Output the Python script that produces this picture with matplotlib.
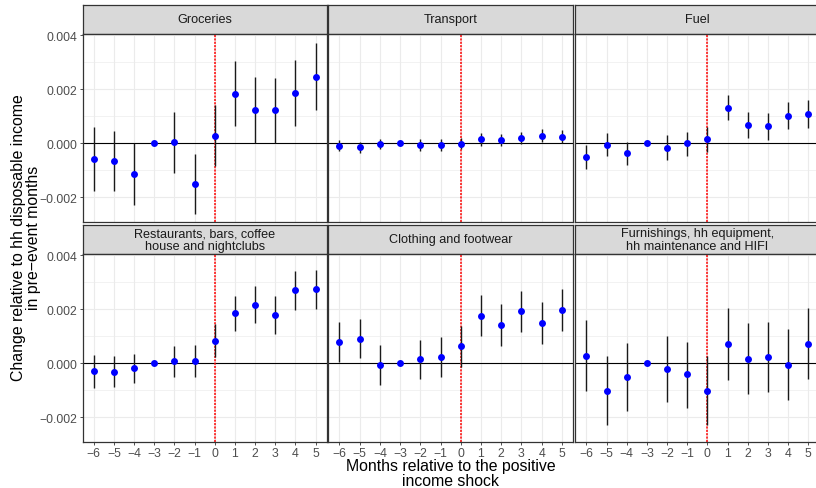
import matplotlib
matplotlib.use("Agg")
import matplotlib.pyplot as plt
from matplotlib.ticker import FixedLocator
import numpy as np

plt.rcParams["font.family"] = ["Liberation Sans", "DejaVu Sans"]

months = [-6, -5, -4, -3, -2, -1, 0, 1, 2, 3, 4, 5]

titles = [
    "Groceries",
    "Transport",
    "Fuel",
    "Restaurants, bars, coffee\nhouse and nightclubs",
    "Clothing and footwear",
    "Furnishings, hh equipment,\nhh maintenance and HIFI",
]

groceries_est = [-0.00059, -0.00065, -0.00113, 0.0, 0.00004, -0.00150, 0.00027, 0.00182, 0.00122, 0.00122, 0.00186, 0.00246]
groceries_lo = [-0.00177, -0.00177, -0.00228, 0.0, -0.00110, -0.00262, -0.00085, 0.00063, 0.00000, 0.00000, 0.00063, 0.00122]
groceries_hi = [0.00059, 0.00047, 0.00000, 0.0, 0.00117, -0.00041, 0.00140, 0.00303, 0.00244, 0.00240, 0.00308, 0.00371]

transport_est = [-0.00009, -0.00015, -0.00004, 0.0, -0.00005, -0.00005, -0.00002, 0.00015, 0.00011, 0.00020, 0.00028, 0.00025]
transport_lo = [-0.00030, -0.00036, -0.00023, 0.0, -0.00027, -0.00027, -0.00023, -0.00009, -0.00011, -0.00004, 0.00005, 0.00001]
transport_hi = [0.00011, 0.00005, 0.00017, 0.0, 0.00016, 0.00017, 0.00020, 0.00037, 0.00034, 0.00042, 0.00052, 0.00048]

fuel_est = [-0.00050, -0.00005, -0.00036, 0.0, -0.00016, 0.00000, 0.00014, 0.00132, 0.00068, 0.00062, 0.00102, 0.00108]
fuel_lo = [-0.00096, -0.00048, -0.00080, 0.0, -0.00063, -0.00046, -0.00033, 0.00085, 0.00021, 0.00012, 0.00052, 0.00055]
fuel_hi = [-0.00007, 0.00037, 0.00006, 0.0, 0.00030, 0.00043, 0.00059, 0.00179, 0.00115, 0.00111, 0.00154, 0.00161]

restaurants_est = [-0.00028, -0.00031, -0.00018, 0.0, 0.00007, 0.00009, 0.00084, 0.00185, 0.00216, 0.00180, 0.00270, 0.00273]
restaurants_lo = [-0.00090, -0.00086, -0.00073, 0.0, -0.00050, -0.00049, 0.00022, 0.00121, 0.00148, 0.00108, 0.00197, 0.00200]
restaurants_hi = [0.00031, 0.00026, 0.00036, 0.0, 0.00064, 0.00068, 0.00145, 0.00248, 0.00284, 0.00250, 0.00342, 0.00346]

clothing_est = [0.00080, 0.00091, -0.00005, 0.0, 0.00014, 0.00025, 0.00063, 0.00176, 0.00142, 0.00192, 0.00149, 0.00198]
clothing_lo = [0.00006, 0.00018, -0.00079, 0.0, -0.00060, -0.00049, -0.00012, 0.00101, 0.00065, 0.00115, 0.00070, 0.00121]
clothing_hi = [0.00151, 0.00165, 0.00069, 0.0, 0.00086, 0.00097, 0.00138, 0.00251, 0.00218, 0.00268, 0.00227, 0.00273]

furnishings_est = [0.00028, -0.00101, -0.00049, 0.0, -0.00022, -0.00041, -0.00101, 0.00071, 0.00017, 0.00022, -0.00005, 0.00073]
furnishings_lo = [-0.00103, -0.00230, -0.00175, 0.0, -0.00144, -0.00164, -0.00230, -0.00062, -0.00115, -0.00108, -0.00135, -0.00059]
furnishings_hi = [0.00160, 0.00027, 0.00075, 0.0, 0.00100, 0.00080, 0.00028, 0.00206, 0.00148, 0.00151, 0.00127, 0.00203]

estimates = [groceries_est, transport_est, fuel_est, restaurants_est, clothing_est, furnishings_est]
lowers = [groceries_lo, transport_lo, fuel_lo, restaurants_lo, clothing_lo, furnishings_lo]
uppers = [groceries_hi, transport_hi, fuel_hi, restaurants_hi, clothing_hi, furnishings_hi]

y_ticks = [-0.002, 0.000, 0.002, 0.004]
y_tick_labels = ["\u22120.002", "0.000", "0.002", "0.004"]

W, H = 816, 489
fig = plt.figure(figsize=(W / 100, H / 100), dpi=100)


def px_axes(x0, y0, x1, y1):
    return fig.add_axes([x0 / W, 1 - y1 / H, (x1 - x0) / W, (y1 - y0) / H])


col_x = [(82.7, 326.7), (328.3, 573.0), (575.3, 819.3)]
row_y = [((6.0, 35.0), (35.0, 222.7)), ((226.0, 255.0), (255.0, 442.7))]

border_col = "#333333"
grid_col = "#EBEBEB"

for i in range(6):
    r, c = divmod(i, 3)
    (sx0, sx1) = col_x[c]
    (strip_y, panel_y) = row_y[r]

    # facet strip
    sax = px_axes(sx0, strip_y[0], sx1, strip_y[1])
    sax.set_facecolor("#D9D9D9")
    sax.set_xticks([])
    sax.set_yticks([])
    for sp in sax.spines.values():
        sp.set_color(border_col)
        sp.set_linewidth(0.9)
    sax.text(0.5, 0.5, titles[i], ha="center", va="center", fontsize=9.1,
             color="#1A1A1A", transform=sax.transAxes, linespacing=1.05)

    # panel
    ax = px_axes(sx0, panel_y[0], sx1, panel_y[1])
    ax.set_xlim(-6.55, 5.55)
    ax.set_ylim(-0.0029, 0.00404)
    ax.yaxis.set_major_locator(FixedLocator(y_ticks))
    ax.yaxis.set_minor_locator(FixedLocator([-0.001, 0.001, 0.003]))
    ax.xaxis.set_major_locator(FixedLocator(months))
    ax.grid(True, which="major", color=grid_col, linewidth=0.8)
    ax.grid(True, which="minor", axis="y", color=grid_col, linewidth=0.45)
    ax.set_axisbelow(True)
    for sp in ax.spines.values():
        sp.set_color(border_col)
        sp.set_linewidth(0.9)

    ax.tick_params(which="minor", length=0)
    ax.tick_params(which="major", length=2.5, width=0.6, color=border_col,
                   labelsize=8.8, labelcolor="#4D4D4D", pad=1.5)
    if c == 0:
        ax.set_yticklabels(y_tick_labels)
    else:
        ax.tick_params(axis="y", length=0, labelleft=False)
    if r == 1:
        ax.set_xticklabels(["\u2212%d" % -m if m < 0 else str(m) for m in months])
    else:
        ax.tick_params(axis="x", length=0, labelbottom=False)

    ax.axhline(0, color="black", linewidth=0.8, zorder=2)
    ax.axvline(0, color="#FF0000", linestyle=(0, (1.4, 0.8)), linewidth=1.1, zorder=2)

    est = np.array(estimates[i])
    lo = np.array(lowers[i])
    hi = np.array(uppers[i])
    ax.vlines(months, lo, hi, color="#1A1A1A", linewidth=1.0, zorder=3)
    ax.plot(months, est, "o", color="#0000FF", markersize=5.0,
            markeredgewidth=0, zorder=4)

fig.text(451 / W, 1 - 474 / H, "Months relative to the positive\nincome shock",
         ha="center", va="center", fontsize=11.4, color="black", linespacing=0.95)
fig.text(26 / W, 1 - 238 / H,
         "Change relative to hh disposable income\nin pre\u2212event months",
         ha="center", va="center", rotation=90, fontsize=11.4, color="black",
         linespacing=0.95)

fig.savefig("out.png", dpi=100)
